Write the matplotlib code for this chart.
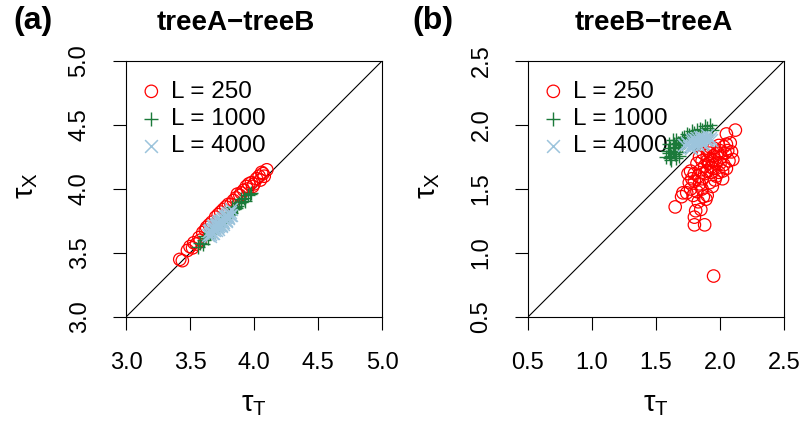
import matplotlib
matplotlib.use("Agg")
import matplotlib.pyplot as plt

plt.rcParams['font.family'] = ['Liberation Sans', 'DejaVu Sans']
plt.rcParams['mathtext.fontset'] = 'custom'
plt.rcParams['mathtext.rm'] = 'Liberation Sans'
plt.rcParams['mathtext.it'] = 'Liberation Sans'

# panel (a): treeA-treeB
a_t_250 = [3.42, 3.44, 3.48, 3.50, 3.52, 3.53, 3.55, 3.57, 3.58, 3.60, 3.62, 3.63, 3.65, 3.67,
           3.70, 3.72, 3.74, 3.76, 3.78, 3.80, 3.82, 3.84, 3.86, 3.87, 3.89, 3.90, 3.92, 3.94,
           3.95, 3.96, 3.98, 4.00, 4.02, 4.04, 4.05, 4.07, 4.08, 4.10, 4.06, 3.99]
a_x_250 = [3.45, 3.44, 3.52, 3.55, 3.54, 3.58, 3.57, 3.62, 3.60, 3.66, 3.68, 3.70, 3.72, 3.74,
           3.78, 3.80, 3.82, 3.84, 3.86, 3.88, 3.88, 3.91, 3.93, 3.96, 3.95, 3.97, 3.99, 4.02,
           4.00, 4.04, 4.05, 4.04, 4.08, 4.10, 4.07, 4.12, 4.10, 4.15, 4.13, 4.02]
a_t_1000 = [3.56, 3.58, 3.60, 3.61, 3.62, 3.64, 3.66, 3.68, 3.70, 3.72, 3.74, 3.76, 3.78, 3.80,
            3.82, 3.84, 3.85, 3.87, 3.88, 3.90, 3.92, 3.93, 3.95, 3.97, 3.90, 3.86, 3.83, 3.98]
a_x_1000 = [3.55, 3.58, 3.57, 3.60, 3.63, 3.62, 3.66, 3.67, 3.70, 3.71, 3.74, 3.75, 3.78, 3.80,
            3.81, 3.84, 3.86, 3.87, 3.89, 3.90, 3.93, 3.91, 3.95, 3.96, 3.92, 3.85, 3.86, 3.97]
a_t_4000 = [3.64, 3.65, 3.66, 3.67, 3.68, 3.69, 3.70, 3.71, 3.72, 3.73, 3.74, 3.75, 3.76, 3.77,
            3.78, 3.79, 3.80, 3.81, 3.82, 3.70, 3.72, 3.74, 3.76, 3.78, 3.68, 3.66, 3.80, 3.73,
            3.75, 3.71, 3.69, 3.77, 3.79, 3.67, 3.81, 3.68, 3.70, 3.72, 3.74, 3.76, 3.78, 3.80,
            3.66, 3.82]
a_x_4000 = [3.64, 3.67, 3.65, 3.69, 3.66, 3.70, 3.68, 3.73, 3.71, 3.75, 3.72, 3.76, 3.74, 3.78,
            3.76, 3.80, 3.78, 3.82, 3.80, 3.71, 3.74, 3.75, 3.77, 3.79, 3.69, 3.68, 3.81, 3.72,
            3.74, 3.70, 3.68, 3.76, 3.78, 3.66, 3.80, 3.71, 3.73, 3.69, 3.71, 3.73, 3.75, 3.77,
            3.63, 3.84]

# panel (b): treeB-treeA
b_t_250 = [1.95, 1.65, 1.80, 1.88, 1.80, 1.81, 1.85, 1.83, 1.89, 1.87, 1.70, 1.71, 1.74, 1.77,
           1.79, 1.82, 1.90, 1.76, 1.78, 1.80, 1.84, 1.86, 1.92, 1.96, 1.75, 1.77, 1.80, 1.83,
           1.85, 1.88, 1.90, 1.93, 1.95, 1.99, 2.02, 2.05, 2.07, 1.82, 1.86, 1.88, 1.91, 1.94,
           1.97, 2.00, 2.03, 1.84, 1.87, 1.90, 1.92, 1.95, 1.98, 2.01, 2.04, 2.06, 1.89, 1.92,
           1.95, 1.99, 2.03, 2.05, 1.90, 1.93, 2.08, 2.05, 2.12, 2.10, 2.02, 1.97, 1.86, 1.94,
           2.00, 1.96, 2.09]
b_x_250 = [0.82, 1.36, 1.22, 1.22, 1.28, 1.33, 1.34, 1.40, 1.42, 1.44, 1.44, 1.47, 1.47, 1.50,
           1.45, 1.48, 1.45, 1.55, 1.58, 1.56, 1.54, 1.58, 1.55, 1.57, 1.62, 1.64, 1.62, 1.60,
           1.65, 1.62, 1.64, 1.63, 1.66, 1.63, 1.64, 1.66, 1.72, 1.70, 1.72, 1.68, 1.70, 1.72,
           1.70, 1.70, 1.69, 1.75, 1.78, 1.76, 1.78, 1.76, 1.78, 1.75, 1.78, 1.80, 1.82, 1.83,
           1.82, 1.84, 1.83, 1.85, 1.72, 1.67, 1.86, 1.93, 1.96, 1.73, 1.58, 1.60, 1.50, 1.52,
           1.80, 1.73, 1.79]
b_t_1000 = [1.58, 1.60, 1.62, 1.61, 1.63, 1.64, 1.65, 1.66, 1.67, 1.68, 1.63, 1.60, 1.66, 1.69,
            1.70, 1.72, 1.74, 1.76, 1.78, 1.80, 1.82, 1.84, 1.86, 1.88, 1.90, 1.92, 1.94, 1.70,
            1.72, 1.75, 1.62, 1.64, 1.68, 1.59, 1.61, 1.65, 1.67]
b_x_1000 = [1.75, 1.78, 1.73, 1.82, 1.80, 1.85, 1.77, 1.88, 1.82, 1.79, 1.88, 1.85, 1.74, 1.86,
            1.90, 1.91, 1.93, 1.92, 1.95, 1.94, 1.96, 1.97, 1.96, 1.99, 1.98, 2.00, 1.96, 1.84,
            1.87, 1.89, 1.76, 1.79, 1.76, 1.80, 1.74, 1.83, 1.86]
b_t_4000 = [1.72, 1.74, 1.76, 1.78, 1.80, 1.82, 1.84, 1.86, 1.88, 1.90, 1.92, 1.77, 1.79, 1.81,
            1.83, 1.85, 1.87, 1.89, 1.75, 1.80, 1.84, 1.91, 1.93, 1.78, 1.86, 1.82]
b_x_4000 = [1.84, 1.86, 1.83, 1.88, 1.85, 1.90, 1.87, 1.91, 1.89, 1.92, 1.90, 1.82, 1.86, 1.88,
            1.84, 1.89, 1.86, 1.88, 1.85, 1.89, 1.91, 1.88, 1.88, 1.84, 1.85, 1.86]

labels = ["L = 250", "L = 1000", "L = 4000"]
colors = ["#FF0000", "#1B7A3A", "#9CC4DC"]
titles = ["treeA\u2212treeB", "treeB\u2212treeA"]
tags = ["(a)", "(b)"]
limits = [(3.0, 5.0), (0.5, 2.5)]
ticks = [[3.0, 3.5, 4.0, 4.5, 5.0], [0.5, 1.0, 1.5, 2.0, 2.5]]

fig = plt.figure(figsize=(8, 4.26), dpi=100)
W, H = 800, 426
lefts = [126 / W, 528 / W]

panels = [
    [(a_t_250, a_x_250), (a_t_1000, a_x_1000), (a_t_4000, a_x_4000)],
    [(b_t_250, b_x_250), (b_t_1000, b_x_1000), (b_t_4000, b_x_4000)],
]
title_x = [236, 654]
tag_x = [33, 433]

for i in range(2):
    ax = fig.add_axes([lefts[i], (H - 317) / H, 256 / W, 256 / H])
    lo, hi = limits[i]
    ax.plot([lo, hi], [lo, hi], color="black", lw=0.8, zorder=1)
    (t0, x0), (t1, x1), (t2, x2) = panels[i]
    ax.scatter(t0, x0, s=80, facecolors="none", edgecolors=colors[0], linewidths=0.9,
               label=labels[0], zorder=3)
    ax.scatter(t1, x1, s=100, marker="+", color=colors[1], linewidths=1.0,
               label=labels[1], zorder=4)
    ax.scatter(t2, x2, s=85, marker="x", color=colors[2], linewidths=1.1,
               label=labels[2], zorder=5)
    ax.set_xlim(lo, hi)
    ax.set_ylim(lo, hi)
    ax.set_xticks(ticks[i])
    ax.set_yticks(ticks[i])
    ax.set_xticklabels([f"{v:.1f}" for v in ticks[i]])
    ax.set_yticklabels([f"{v:.1f}" for v in ticks[i]], rotation=90, va="center")
    ax.tick_params(direction="out", length=9.5, width=0.8, labelsize=17, pad=16)
    for sp in ax.spines.values():
        sp.set_linewidth(0.8)
    leg = ax.legend(loc="upper left", bbox_to_anchor=(-0.015, 0.98), frameon=False,
                    fontsize=17.5, handletextpad=0.2, labelspacing=0.22, borderaxespad=0.2,
                    handlelength=1.2, scatterpoints=1)
    leg.set_zorder(2)
    fig.text(title_x[i] / W, 1 - 23 / H, titles[i], ha="center", va="center",
             fontsize=20, fontweight="bold")
    fig.text(tag_x[i] / W, 1 - 21 / H, tags[i], ha="center", va="center",
             fontsize=23, fontweight="bold")
    cx = lefts[i] * W + 128
    fig.text(cx / W, 1 - 404 / H, r"$\mathrm{\tau}_\mathrm{T}$", ha="center", va="center",
             fontsize=21)
    fig.text((lefts[i] * W - 100) / W, 1 - 186 / H, r"$\mathrm{\tau}_\mathrm{X}$",
             ha="center", va="center", rotation=90, fontsize=21)

fig.savefig("out.png", dpi=100)
